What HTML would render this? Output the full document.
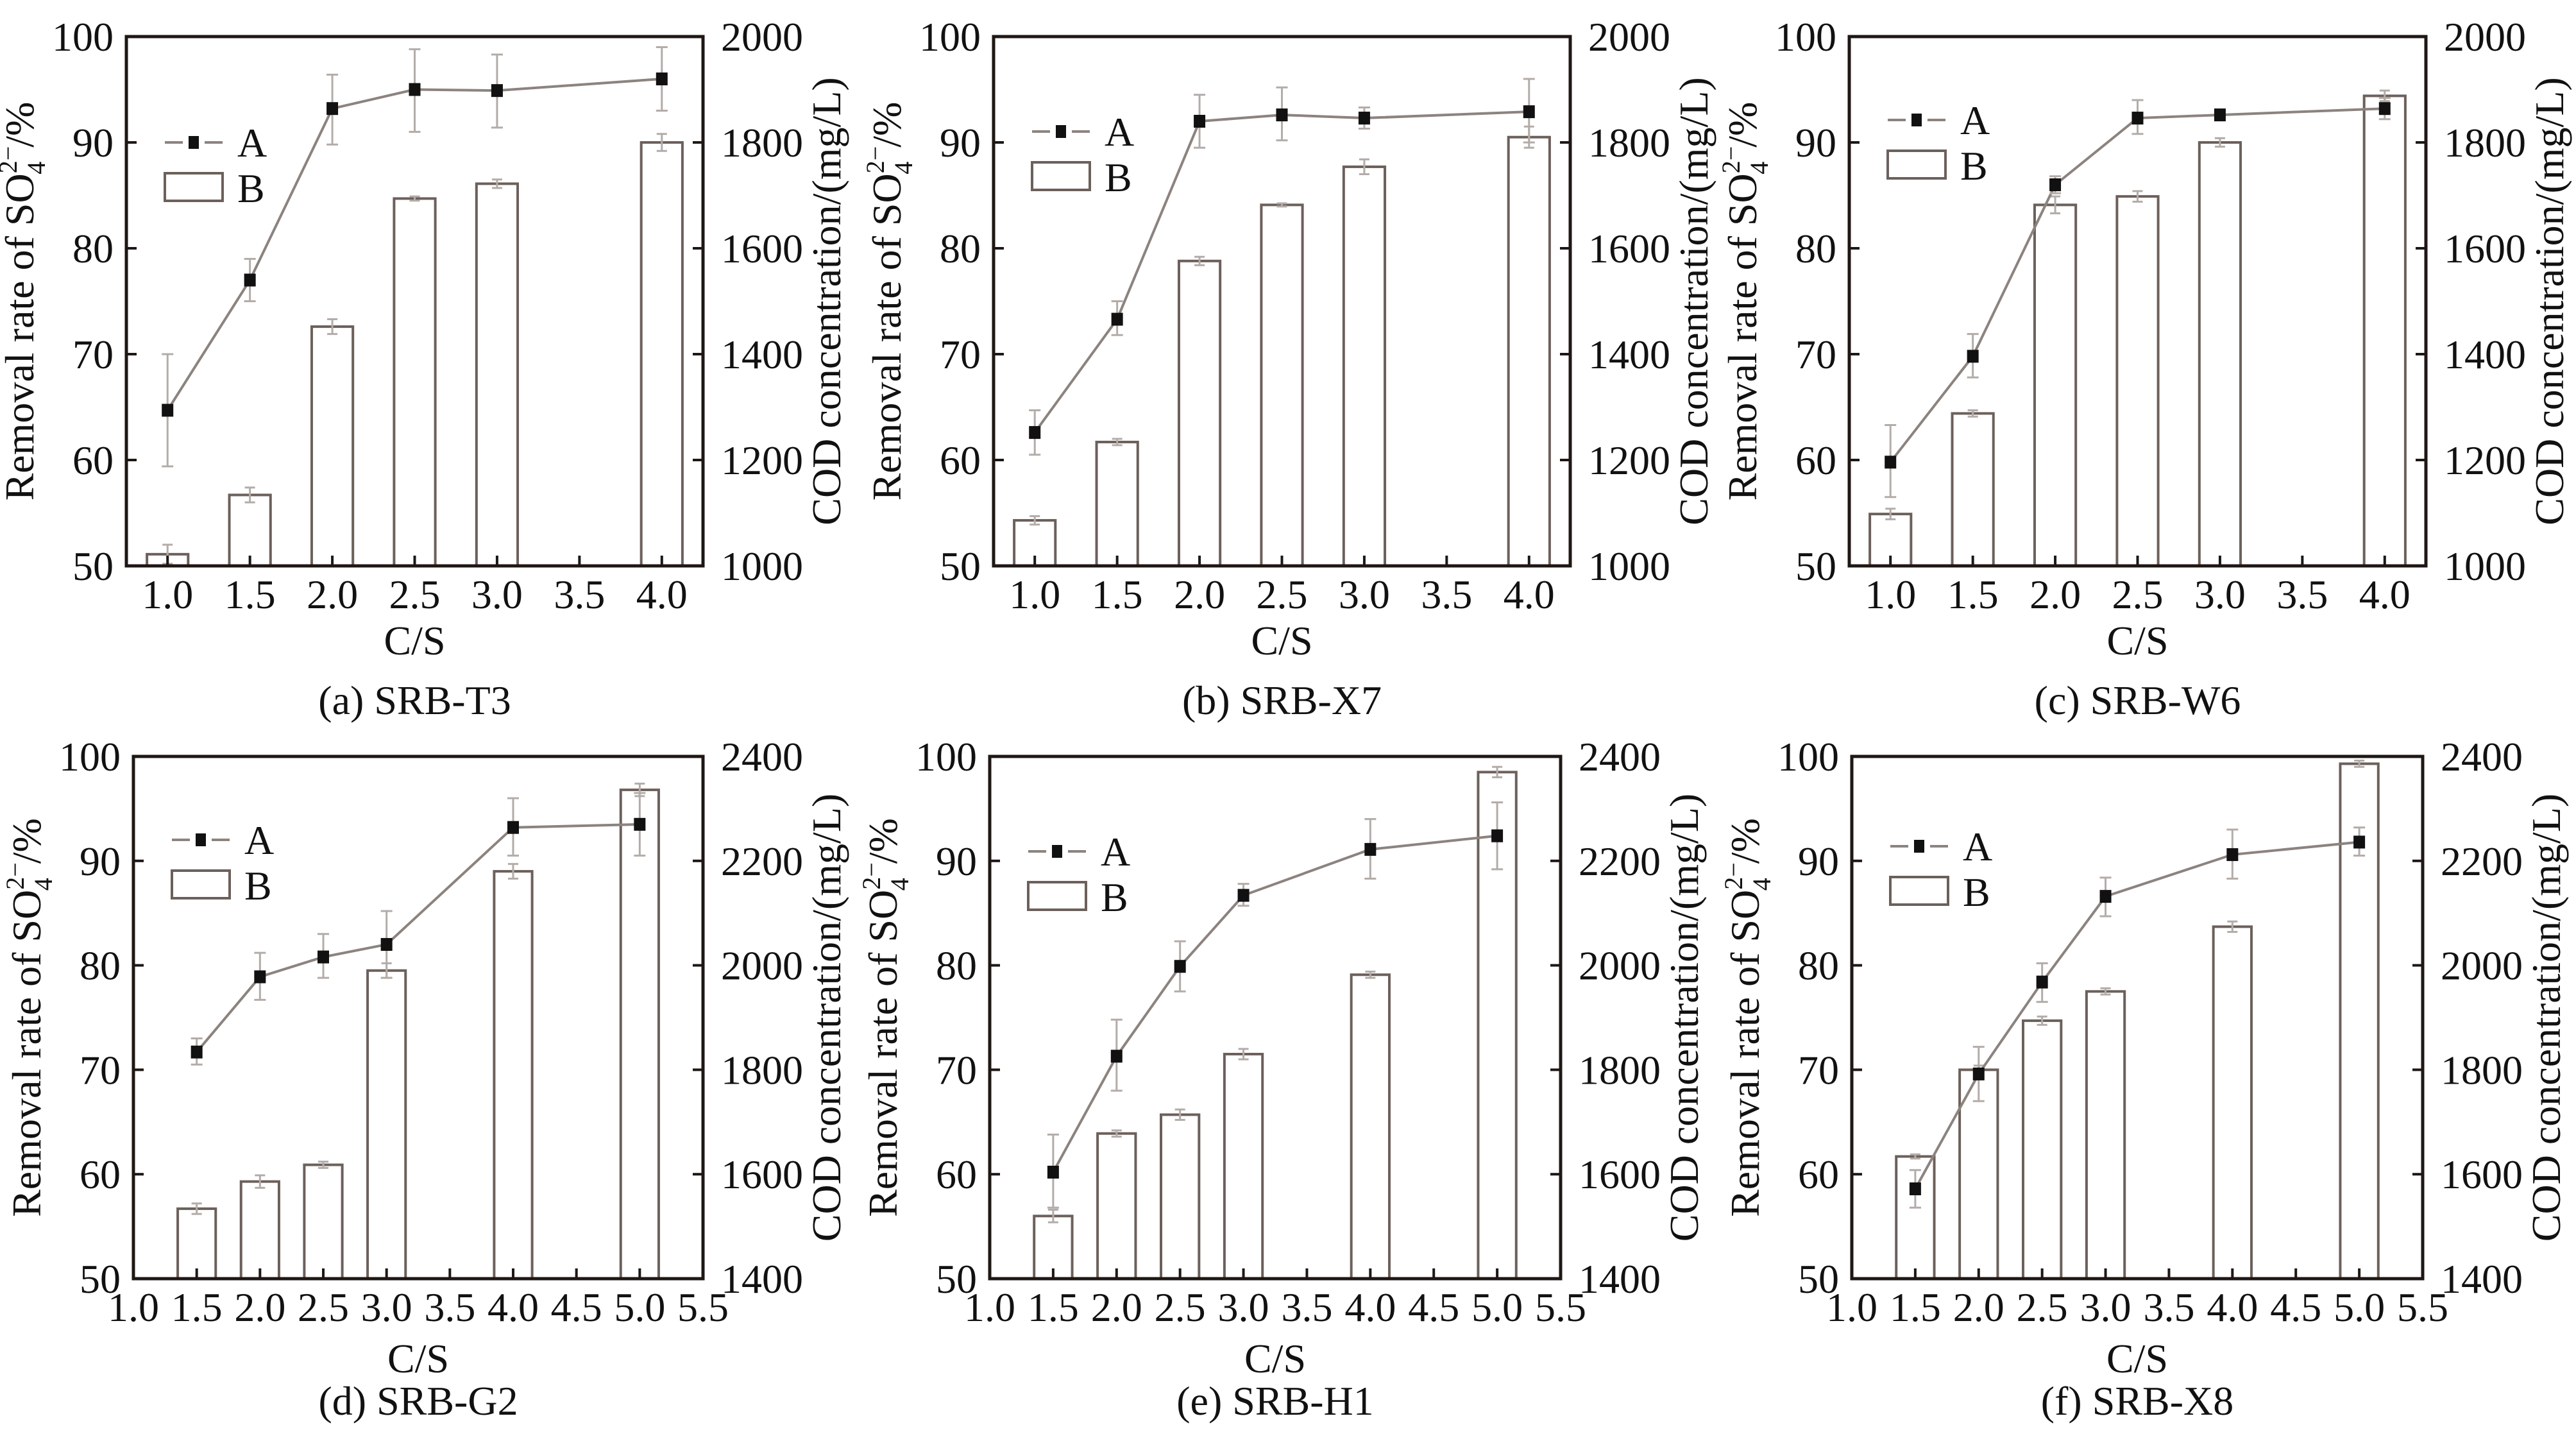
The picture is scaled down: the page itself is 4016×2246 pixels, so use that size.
<!DOCTYPE html>
<html><head><meta charset="utf-8"><style>
html,body{margin:0;padding:0;background:#fff}
svg{display:block}
text{font-family:"Liberation Serif",serif;fill:#111}
</style></head><body>
<svg id="fig" width="4016" height="2246" viewBox="0 0 4016 2246" xmlns="http://www.w3.org/2000/svg"></svg>
<script>
// ---- data ----
const xTop = [1.0, 1.5, 2.0, 2.5, 3.0, 4.0];
const xBot = [1.5, 2.0, 2.5, 3.0, 4.0, 5.0];
const xTicksTop = ["1.0","1.5","2.0","2.5","3.0","3.5","4.0"];
const xTicksBot = ["1.0","1.5","2.0","2.5","3.0","3.5","4.0","4.5","5.0","5.5"];
const yLeftTicks = [50,60,70,80,90,100];
const yRightTop = [1000,1200,1400,1600,1800,2000];
const yRightBot = [1400,1600,1800,2000,2200,2400];

const aA = [64.7, 77.0, 93.2, 95.0, 94.9, 96.0];
const aALo = [59.4, 75.0, 89.8, 91.0, 91.4, 93.0];
const aAHi = [70.0, 79.0, 96.4, 98.8, 98.3, 99.0];
const aB = [1022, 1134, 1452, 1694, 1722, 1800];
const aBErr = [18, 14, 14, 4, 8, 16];

const bA = [62.6, 73.3, 92.0, 92.6, 92.3, 92.9];
const bALo = [60.5, 71.8, 89.5, 90.2, 91.3, 90.0];
const bAHi = [64.7, 75.0, 94.5, 95.2, 93.3, 96.0];
const bB = [1086, 1234, 1576, 1682, 1754, 1810];
const bBErr = [8, 6, 8, 3, 14, 20];

const cA = [59.8, 69.8, 86.0, 92.3, 92.6, 93.2];
const cALo = [56.5, 67.8, 85.2, 90.8, 92.2, 92.2];
const cAHi = [63.3, 71.9, 86.8, 94.0, 93.0, 94.2];
const cB = [1098, 1288, 1682, 1698, 1800, 1888];
const cBErr = [10, 6, 16, 10, 8, 10];

const dA = [71.7, 78.9, 80.8, 82.0, 93.2, 93.5];
const dALo = [70.5, 76.7, 78.8, 78.8, 90.5, 90.5];
const dAHi = [73.0, 81.2, 83.0, 85.2, 96.0, 96.5];
const dB = [1534, 1586, 1618, 1990, 2180, 2336];
const dBErr = [10, 12, 6, 14, 14, 12];

const eA = [60.2, 71.3, 79.9, 86.7, 91.1, 92.4];
const eALo = [56.8, 68.0, 77.5, 85.7, 88.3, 89.2];
const eAHi = [63.8, 74.8, 82.3, 87.8, 94.0, 95.6];
const eB = [1520, 1678, 1714, 1830, 1982, 2370];
const eBErr = [12, 6, 10, 10, 6, 10];

const fA = [58.6, 69.6, 78.4, 86.6, 90.6, 91.8];
const fALo = [56.8, 67.0, 76.5, 84.7, 88.3, 90.5];
const fAHi = [60.4, 72.2, 80.2, 88.4, 93.0, 93.2];
const fB = [1634, 1800, 1894, 1950, 2074, 2386];
const fBErr = [4, 8, 8, 6, 10, 6];

const captions = ["(a) SRB-T3","(b) SRB-X7","(c) SRB-W6","(d) SRB-G2","(e) SRB-H1","(f) SRB-X8"];

// ---- layout ----
const NS = "http://www.w3.org/2000/svg";
const svg = document.getElementById('fig');
function mk(tag, attrs, parent){ const e=document.createElementNS(NS,tag); for(const k in attrs) e.setAttribute(k,attrs[k]); (parent||svg).appendChild(e); return e; }

const panels = [
 {id:'a', L:197, T:57, W:899, H:825, x0:0.75, x1:4.25, xs:xTop, xt:xTicksTop, xtStart:1.0, rT:yRightTop, A:aA, lo:aALo, hi:aAHi, B:aB, be:aBErr, bw:0.25, legY:165, csY:138, capY:231},
 {id:'b', L:1549, T:57, W:899, H:825, x0:0.75, x1:4.25, xs:xTop, xt:xTicksTop, xtStart:1.0, rT:yRightTop, A:bA, lo:bALo, hi:bAHi, B:bB, be:bBErr, bw:0.25, legY:148, csY:138, capY:231},
 {id:'c', L:2883, T:57, W:899, H:825, x0:0.75, x1:4.25, xs:xTop, xt:xTicksTop, xtStart:1.0, rT:yRightTop, A:cA, lo:cALo, hi:cAHi, B:cB, be:cBErr, bw:0.25, legY:130, csY:138, capY:231},
 {id:'d', L:208, T:1179, W:888, H:814, x0:1.0, x1:5.5, xs:xBot, xt:xTicksBot, xtStart:1.0, rT:yRightBot, A:dA, lo:dALo, hi:dAHi, B:dB, be:dBErr, bw:0.30, legY:130, csY:146, capY:212},
 {id:'e', L:1543, T:1179, W:890, H:814, x0:1.0, x1:5.5, xs:xBot, xt:xTicksBot, xtStart:1.0, rT:yRightBot, A:eA, lo:eALo, hi:eAHi, B:eB, be:eBErr, bw:0.30, legY:148, csY:146, capY:212},
 {id:'f', L:2887, T:1179, W:890, H:814, x0:1.0, x1:5.5, xs:xBot, xt:xTicksBot, xtStart:1.0, rT:yRightBot, A:fA, lo:fALo, hi:fAHi, B:fB, be:fBErr, bw:0.30, legY:140, csY:146, capY:212}
];

const FS = 64, AX='#1e1714', BAR='#6c605b', LINE='#8c837f', ERR='#b3aca8';

panels.forEach((p,pi)=>{
  const g = mk('g',{});
  
  
  const B = p.T+p.H, R = p.L+p.W;
  const sx = v => p.L + (v-p.x0)/(p.x1-p.x0)*p.W;
  const syL = v => B - (v-50)/50*p.H;
  const r0 = p.rT[0], r1 = p.rT[p.rT.length-1];
  const syR = v => B - (v-r0)/(r1-r0)*p.H;

  // bars
  p.xs.forEach((x,i)=>{
    const bw = p.bw*(p.W/(p.x1-p.x0));
    const y = syR(p.B[i]);
    const r = mk('rect',{x:sx(x)-bw/2, y:y, width:bw, height:B-y, fill:'#fff', stroke:BAR, 'stroke-width':4},g);
    
    
    const e = mk('path',{d:`M${sx(x)} ${syR(p.B[i]+p.be[i])}V${syR(p.B[i]-p.be[i])}M${sx(x)-8} ${syR(p.B[i]+p.be[i])}h16M${sx(x)-8} ${syR(p.B[i]-p.be[i])}h16`, stroke:ERR,'stroke-width':3,fill:'none'},g);
    
    
  });
  // line A
  const pts = p.xs.map((x,i)=>sx(x)+','+syL(p.A[i])).join(' ');
  const pl = mk('polyline',{points:pts, fill:'none', stroke:LINE, 'stroke-width':4},g);
  
  
  p.xs.forEach((x,i)=>{
    const e = mk('path',{d:`M${sx(x)} ${syL(p.hi[i])}V${syL(p.lo[i])}M${sx(x)-9} ${syL(p.hi[i])}h18M${sx(x)-9} ${syL(p.lo[i])}h18`, stroke:ERR,'stroke-width':3,fill:'none'},g);
    
    
    const m = mk('rect',{x:sx(x)-9, y:syL(p.A[i])-10, width:18, height:20, fill:'#111'},g);
    
    
  });

  // axes frame
  const fr = mk('rect',{x:p.L,y:p.T,width:p.W,height:p.H,fill:'none',stroke:AX,'stroke-width':5},g);
  
  
  // x ticks
  p.xt.forEach((t,i)=>{
    const v = p.xtStart + 0.5*i, X = sx(v);
    mk('line',{x1:X,y1:B,x2:X,y2:B-16,stroke:AX,'stroke-width':4},g);
    const tx = mk('text',{x:X,y:B+66,'font-size':FS,'text-anchor':'middle'},g);
    tx.textContent=t;
    
    
  });
  // left ticks
  yLeftTicks.forEach(v=>{
    const Y = syL(v);
    mk('line',{x1:p.L,y1:Y,x2:p.L+16,y2:Y,stroke:AX,'stroke-width':4},g);
    const tx = mk('text',{x:p.L-20,y:Y+22,'font-size':FS,'text-anchor':'end'},g);
    tx.textContent=v;
    
    
  });
  // right ticks
  p.rT.forEach(v=>{
    const Y = syR(v);
    mk('line',{x1:R,y1:Y,x2:R-16,y2:Y,stroke:AX,'stroke-width':4},g);
    const tx = mk('text',{x:R+28,y:Y+22,'font-size':FS,'text-anchor':'start'},g);
    tx.textContent=v;
    
    
  });
  // axis titles
  const xt = mk('text',{x:p.L+p.W/2,y:B+p.csY,'font-size':FS,'text-anchor':'middle'},g);
  xt.textContent='C/S';
  
  
  const cy = p.T+p.H/2;
  const lt = mk('text',{x:0,y:0,'font-size':FS,'text-anchor':'middle',transform:`translate(${p.L-145},${cy}) rotate(-90)`},g);
  lt.innerHTML='Removal rate of SO<tspan font-size="40" dy="-26">2−</tspan><tspan font-size="40" dx="-44" dy="44">4</tspan><tspan dy="-18" dx="22">/%</tspan>';
  
  
  const rt = mk('text',{x:0,y:0,'font-size':FS,'text-anchor':'middle',transform:`translate(${R+214},${cy}) rotate(-90)`},g);
  rt.textContent='COD concentration/(mg/L)';
  
  
  const cap = mk('text',{x:p.L+p.W/2,y:B+p.capY,'font-size':FS,'text-anchor':'middle'},g);
  cap.textContent=captions[pi];
  
  

  // legend
  const lx = p.L+60, ly = p.T+p.legY;
  const la = mk('path',{d:`M${lx} ${ly}h28M${lx+62} ${ly}h28`,stroke:LINE,'stroke-width':4},g);
  
  
  const lm = mk('rect',{x:lx+37,y:ly-10,width:16,height:20,fill:'#111'},g);
  
  
  const ta = mk('text',{x:lx+113,y:ly+22,'font-size':FS},g);
  ta.textContent='A';
  
  
  const lb = mk('rect',{x:lx,y:ly+48,width:90,height:43,fill:'#fff',stroke:BAR,'stroke-width':4},g);
  
  
  const tb = mk('text',{x:lx+113,y:ly+93,'font-size':FS},g);
  tb.textContent='B';
  
  
});
</script>
</body></html>
